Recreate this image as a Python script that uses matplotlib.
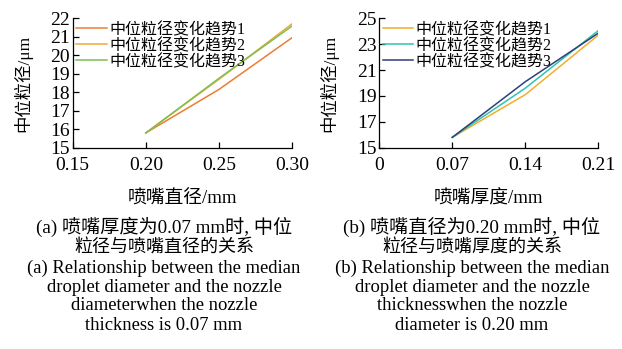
import matplotlib
matplotlib.use("Agg")
import matplotlib.pyplot as plt

plt.rcParams['font.family'] = ['Liberation Serif', 'Noto Sans CJK SC']

# panel (a): median diameter vs nozzle diameter
dia_x = [0.20, 0.25, 0.30]
dia_s1 = [15.8, 18.15, 20.95]
dia_s2 = [15.8, 18.7, 21.7]
dia_s3 = [15.8, 18.75, 21.58]

# panel (b): median diameter vs nozzle thickness
thk_x = [0.07, 0.14, 0.21]
thk_s1 = [15.8, 19.1, 23.7]
thk_s2 = [15.8, 19.6, 24.05]
thk_s3 = [15.8, 20.1, 23.85]

labels = ['中位粒径变化趋势1', '中位粒径变化趋势2', '中位粒径变化趋势3']
a_colors = ['#ED7D31', '#F2A930', '#7DBF55']
b_colors = ['#F2AE2A', '#2EC4B0', '#2E3F7C']

a_ticks_x = [0.15, 0.20, 0.25, 0.30]
a_ticks_y = [15, 16, 17, 18, 19, 20, 21, 22]
b_ticks_x = [0, 0.07, 0.14, 0.21]
b_ticks_y = [15, 17, 19, 21, 23, 25]

cap_a = ['(a) 喷嘴厚度为0.07 mm时, 中位', '粒径与喷嘴直径的关系',
         '(a) Relationship between the median', 'droplet diameter and the nozzle',
         'diameterwhen the nozzle', 'thickness is 0.07 mm']
cap_b = ['(b) 喷嘴直径为0.20 mm时, 中位', '粒径与喷嘴厚度的关系',
         '(b) Relationship between the median', 'droplet diameter and the nozzle',
         'thicknesswhen the nozzle', 'diameter is 0.20 mm']

fig = plt.figure(figsize=(6.22, 3.49), dpi=100)
ax1 = fig.add_axes([0.1169, 0.5768, 0.3526, 0.3708])
ax2 = fig.add_axes([0.6098, 0.5768, 0.3521, 0.3708])


def style(ax, xt, yt, xlabels, xlab):
    for s in ['top', 'right']:
        ax.spines[s].set_visible(False)
    for s in ['left', 'bottom']:
        ax.spines[s].set_linewidth(0.9)
    ax.set_xlim(xt[0], xt[-1])
    ax.set_ylim(yt[0], yt[-1])
    ax.set_xticks(xt)
    ax.set_xticklabels(xlabels)
    ax.set_yticks(yt)
    ax.tick_params(direction='in', length=4, width=0.9, labelsize=14)
    ax.tick_params(axis='x', pad=7)
    ax.tick_params(axis='y', pad=2)
    ax.set_xlabel(xlab, fontsize=13.5, labelpad=11)
    ax.set_ylabel('中位粒径/μm', fontsize=12.5, labelpad=13)
    ax.legend(loc='upper left', frameon=False, fontsize=11.5, handlelength=1.9,
              handletextpad=0.15, labelspacing=0.0, borderaxespad=0.0,
              bbox_to_anchor=(-0.012, 1.02))


for ys, c, lab in zip([dia_s1, dia_s2, dia_s3], a_colors, labels):
    ax1.plot(dia_x, ys, color=c, lw=1.1, label=lab)
for ys, c, lab in zip([thk_s1, thk_s2, thk_s3], b_colors, labels):
    ax2.plot(thk_x, ys, color=c, lw=1.1, label=lab)

style(ax1, a_ticks_x, a_ticks_y, ['0.15', '0.20', '0.25', '0.30'], '喷嘴直径/mm')
style(ax2, b_ticks_x, b_ticks_y, ['0', '0.07', '0.14', '0.21'], '喷嘴厚度/mm')

line_y = [227, 248, 268, 287, 306, 325]
cap_size = [13.8, 13.0, 13.4, 13.4, 13.4, 13.4]
for i, (ta, tb) in enumerate(zip(cap_a, cap_b)):
    y = 1 - line_y[i] / 349
    fig.text(164 / 622, y, ta, ha='center', va='center', fontsize=cap_size[i])
    fig.text(472 / 622, y, tb, ha='center', va='center', fontsize=cap_size[i])

fig.savefig('out.png', dpi=100)
